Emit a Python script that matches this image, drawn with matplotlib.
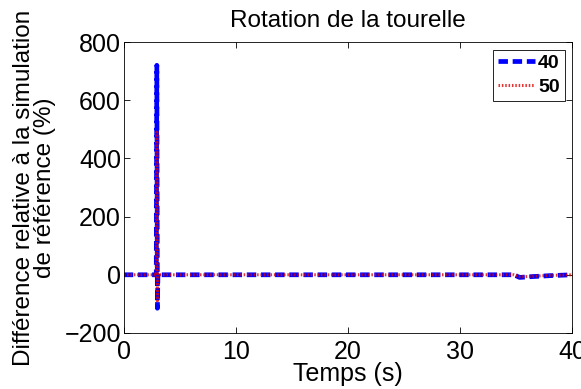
import matplotlib.pyplot as plt
import numpy as np

plt.rcParams['font.family'] = ['Liberation Sans', 'DejaVu Sans']

# relative difference vs reference simulation, two cases
t_40 = [0, 2.9, 2.95, 3.0, 3.05, 3.1, 34.8, 35.3, 36.5, 38.0, 40]
d_40 = [0, 0, 720, -115, 4, 0, 0, -9, -6, -3, 0]
t_50 = [0, 2.9, 2.95, 3.0, 3.05, 3.1, 34.8, 35.3, 36.5, 38.0, 40]
d_50 = [0, 0, 490, -90, 3, 0, 0, -7, -5, -2, 0]

fig = plt.figure(figsize=(5.81, 3.89), dpi=100)
ax = fig.add_axes([0.213, 0.144, 0.772, 0.748])

ax.plot(t_40, d_40, color='blue', linestyle=(0, (2.0, 1.0)), linewidth=3.4, label='40')
ax.plot(t_50, d_50, color='#e00000', linestyle=(0, (0.5, 0.6)), linewidth=2.2, label='50', alpha=0.8)

ax.set_xlim(0, 40)
ax.set_ylim(-200, 800)
ax.set_xticks([0, 10, 20, 30, 40])
ax.set_yticks([-200, 0, 200, 400, 600, 800])
ax.tick_params(labelsize=18, direction='in', length=4, width=0.6, top=True, right=True, pad=2)
ax.tick_params(axis='x', pad=5)
for s in ax.spines.values():
    s.set_linewidth(0.6)

ax.set_title('Rotation de la tourelle', fontsize=17.5, pad=11)
ax.set_xlabel('Temps (s)', fontsize=18, labelpad=-1.5)
ax.set_ylabel('Différence relative à la simulation\nde référence (%)', fontsize=17.5, labelpad=6, linespacing=0.95)

leg = ax.legend(loc='upper right', prop={'weight': 'bold', 'size': 14},
                handlelength=1.9, handletextpad=0.15, borderpad=0.25, labelspacing=0.3,
                borderaxespad=0.4, fancybox=False, edgecolor='black', framealpha=1)
leg.get_frame().set_linewidth(0.6)

fig.savefig('out.png', dpi=100)
